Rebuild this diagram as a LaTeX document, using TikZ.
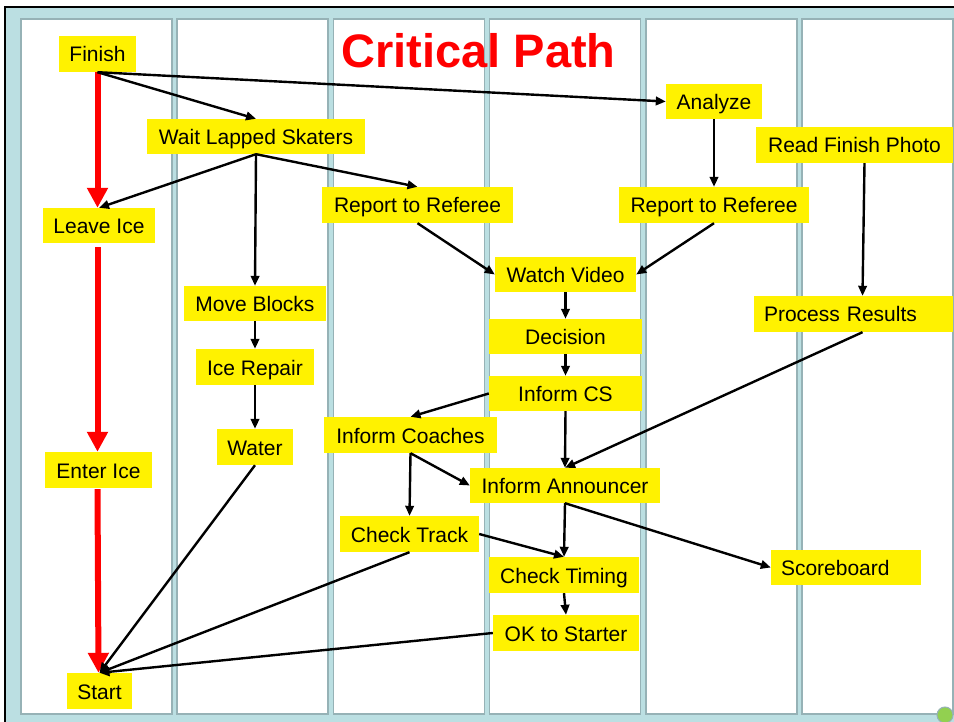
\documentclass[tikz,border=0pt]{standalone}
\usepackage{fontspec}
\setmainfont{Liberation Sans}
\usetikzlibrary{arrows.meta}
\definecolor{bgblue}{RGB}{187,223,226}
\definecolor{colline}{RGB}{150,178,182}
\definecolor{dotgreen}{RGB}{146,208,80}
\begin{document}
\begin{tikzpicture}[x=1pt,y=-1pt,
 bx/.style={fill=yellow, inner sep=0pt, minimum height=35pt, text height=16pt, text depth=0pt, font=\fontsize{21}{25}\selectfont},
 lbx/.style={bx, inner xsep=10pt, align=left, text width=#1},
 arr/.style={draw=black, line width=2.4pt, -{Triangle[length=10pt,width=8.5pt]}},
 redarr/.style={draw=red, line width=6pt, -{Triangle[length=20pt,width=20pt]}},
 lane/.style={fill=white, draw=colline, line width=1.5pt}]
\useasboundingbox (0,0) rectangle (954,722);
\fill[white] (0,0) rectangle (954,722);
\fill[bgblue] (5,7) rectangle (954,722);
\draw[black, line width=2pt] (5,722) -- (5,7) -- (954,7);
\foreach \i in {0,...,5} {
  \filldraw[lane] ({21+156.2*\i},19) rectangle ({172+156.2*\i},714);
}
\filldraw[fill=dotgreen, draw=colline, line width=1pt] (945,715) circle (8pt);

\node[font=\fontsize{47}{47}\selectfont\bfseries, text=red, anchor=base] (title) at (478.5,68) {Critical Path};

\node[bx, minimum width=77pt, minimum height=36pt] (fin) at (97.5,54) {Finish};
\node[bx, minimum width=218pt] (wls) at (256,136.5) {Wait Lapped Skaters};
\node[bx, minimum width=96pt] (ana) at (714,101.5) {Analyze};
\node[bx, minimum width=197pt, minimum height=36pt] (rfp) at (854.5,145) {Read Finish Photo};
\node[bx, minimum width=112pt] (li) at (99,225.5) {Leave Ice};
\node[bx, minimum width=191pt, minimum height=36pt] (rr1) at (417.5,205) {Report to Referee};
\node[bx, minimum width=190pt, minimum height=36pt] (rr2) at (714,205) {Report to Referee};
\node[bx, minimum width=141pt] (wv) at (565.5,274.5) {Watch Video};
\node[bx, minimum width=142pt] (mb) at (255,303.5) {Move Blocks};
\node[lbx=179pt, minimum height=36pt] (pr) at (853.5,314) {Process Results};
\node[bx, minimum width=153pt] (dec) at (565.5,336.5) {Decision};
\node[bx, minimum width=118pt, minimum height=36pt] (ir) at (255,367) {Ice Repair};
\node[bx, minimum width=153pt] (ics) at (565.5,393.5) {Inform CS};
\node[bx, minimum width=173pt, minimum height=36pt] (ico) at (410.5,435) {Inform Coaches};
\node[bx, minimum width=76pt, minimum height=36pt] (wat) at (255,447) {Water};
\node[bx, minimum width=107pt, minimum height=36pt] (ei) at (98.5,470) {Enter Ice};
\node[bx, minimum width=190pt] (ia) at (565,485.5) {Inform Announcer};
\node[bx, minimum width=139pt, minimum height=36pt] (ct) at (409.5,534) {Check Track};
\node[bx, minimum width=150pt, minimum height=36pt] (ctm) at (564,575) {Check Timing};
\node[lbx=130pt] (sb) at (846,567.5) {Scoreboard};
\node[bx, minimum width=146pt, minimum height=36pt] (ok) at (566,633) {OK to Starter};
\node[bx, minimum width=65pt, minimum height=36pt] (st) at (99.5,691) {Start};

% critical path
\draw[redarr] (fin.south) -- (fin.south |- li.north);
\draw[redarr] ([yshift=-4pt]li.south -| fin.south) -- (fin.south |- ei.north);
\draw[redarr] ([yshift=-1pt]ei.south -| fin.south) -- ([xshift=-1pt]st.north);

% other connectors
\draw[arr] (fin.south) -- (ana.west);
\draw[arr] (fin.south) -- (wls.north);
\draw[arr] (wls.south) -- (li.north);
\draw[arr] (wls.south) -- (rr1.north);
\draw[arr] (wls.south) -- (mb.north);
\draw[arr] (ana.south) -- (rr2.north);
\draw[arr] (rr1.south) -- (wv.west);
\draw[arr] (rr2.south) -- (wv.east);
\draw[arr] ([xshift=10pt]rfp.south) -- ([xshift=9pt]pr.north);
\draw[arr] (wv.south) -- (dec.north);
\draw[arr] (dec.south) -- (ics.north);
\draw[arr] (ics.west) -- (ico.north);
\draw[arr] (ics.south) -- (ia.north);
\draw[arr] ([xshift=9pt]pr.south) -- (ia.north);
\draw[arr] (ico.south) -- (ct.north);
\draw[arr] (ico.south) -- (ia.west);
\draw[arr] (ia.south) -- (ctm.north);
\draw[arr] (ia.south) -- (sb.west);
\draw[arr] (ct.east) -- (ctm.north);
\draw[arr] (ctm.south) -- (ok.north);
\draw[arr] (mb.south) -- (ir.north);
\draw[arr] (ir.south) -- (wat.north);
\draw[arr] (wat.south) -- (st.north);
\draw[arr] (ct.south) -- (st.north);
\draw[arr] (ok.west) -- (st.north);
\end{tikzpicture}
\end{document}
